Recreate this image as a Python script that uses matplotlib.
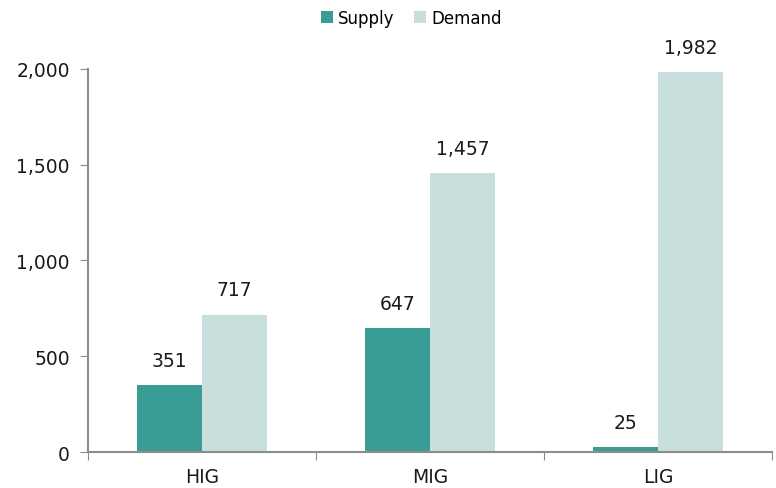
import matplotlib.pyplot as plt
import numpy as np

categories = ["HIG", "MIG", "LIG"]
supply = [351, 647, 25]
demand = [717, 1457, 1982]
yticks = [0, 500, 1000, 1500, 2000]

supply_color = "#3a9d95"
demand_color = "#c9dfdd"
axis_color = "#8c8c8c"

plt.rcParams['font.family'] = ['DejaVu Sans']

fig = plt.figure(figsize=(7.76, 4.89), dpi=100)
ax = fig.add_axes([0.1134, 0.0736, 0.8814, 0.7834])

x = np.arange(len(categories))
w = 0.285
b1 = ax.bar(x - w / 2, supply, w, color=supply_color, label="Supply")
b2 = ax.bar(x + w / 2, demand, w, color=demand_color, label="Demand")

for bars, vals in ((b1, supply), (b2, demand)):
    for rect, v in zip(bars, vals):
        ax.annotate(f"{v:,}", (rect.get_x() + rect.get_width() / 2, v),
                    xytext=(0, 11), textcoords="offset points",
                    ha="center", va="bottom", fontsize=13.5,
                    color="#1a1a1a", annotation_clip=False)

ax.set_xlim(-0.5, len(categories) - 0.5)
ax.set_ylim(0, 2000)
ax.set_yticks(yticks)
ax.set_yticklabels([f"{t:,}" for t in yticks], fontsize=13.5, color="#1a1a1a")

ax.set_xticks(np.arange(len(categories) + 1) - 0.5)
ax.set_xticklabels([])
ax.set_xticks(x, minor=True)
ax.set_xticklabels(categories, minor=True, fontsize=13.5, color="#1a1a1a")
ax.tick_params(axis="x", which="minor", length=0, pad=11)
ax.tick_params(axis="x", which="major", length=6, color=axis_color)
ax.tick_params(axis="y", length=6, color=axis_color, pad=7)

for s in ("top", "right"):
    ax.spines[s].set_visible(False)
for s in ("left", "bottom"):
    ax.spines[s].set_color(axis_color)
    ax.spines[s].set_linewidth(1.5)

fig.legend(loc="upper center", bbox_to_anchor=(0.53, 1.01), ncol=2,
           frameon=False, fontsize=12, handlelength=0.7, handleheight=0.7,
           handletextpad=0.3, columnspacing=1.2)

fig.savefig("out.png", dpi=100)
